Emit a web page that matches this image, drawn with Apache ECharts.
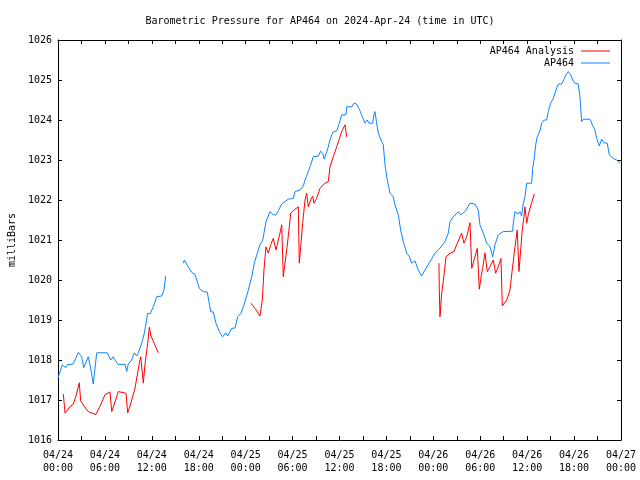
<!DOCTYPE html>
<html><head><meta charset="utf-8">
<script src="https://cdn.jsdelivr.net/npm/echarts@6/dist/echarts.min.js"></script>
<style>html,body{margin:0;padding:0;background:#fff}#c{width:640px;height:480px}</style>
</head><body><div id="c"></div>
<script>
const chartTitle = 'Barometric Pressure for AP464 on 2024-Apr-24 (time in UTC)';
const yAxisName = 'milliBars';
const xTickLabels = ['04/24\n00:00','04/24\n06:00','04/24\n12:00','04/24\n18:00','04/25\n00:00','04/25\n06:00','04/25\n12:00','04/25\n18:00','04/26\n00:00','04/26\n06:00','04/26\n12:00','04/26\n18:00','04/27\n00:00'];
const seriesNames = ['AP464 Analysis', 'AP464'];

// AP464 observations: hours since 04/24 00:00 UTC, pressure (mbar); null = gap
const apHours = [0,0.55,0.98,1.24,1.88,2.17,2.6,3.03,3.29,3.87,4.09,4.51,4.95,6.3,6.74,7.07,7.29,7.71,8.57,8.79,8.99,9.42,9.76,10.06,10.27,10.7,11.04,11.47,11.76,12.19,12.62,13.26,13.55,13.77,
 14.9,
 16.02,16.15,16.66,17.1,17.52,18.07,18.58,19.09,19.53,19.86,20.2,20.63,21.06,21.27,21.48,21.7,22.21,22.63,22.98,23.4,23.79,24.34,24.77,25.1,25.49,25.83,26.18,26.34,26.6,27.11,27.53,27.88,28.17,28.61,29.45,30.09,30.31,30.95,31.37,31.59,32.01,32.31,32.65,33.29,33.59,33.85,34.05,34.27,34.57,34.78,35.13,35.64,35.97,36.28,36.83,36.92,37.56,37.85,38.2,38.62,38.91,39.26,39.55,39.77,40.24,40.41,40.54,40.75,40.96,41.39,41.6,41.82,42.11,42.46,42.88,43.09,43.31,43.52,43.82,44.16,44.59,44.92,45.23,45.65,46.07,46.51,46.93,47.57,48.21,48.85,49.49,49.91,50.13,50.55,51.19,51.5,52.05,52.69,53.32,53.75,53.96,54.39,54.82,55.24,55.59,55.88,56.1,56.3,56.94,58.15,58.22,58.44,58.86,59.08,59.29,59.5,59.72,59.94,60.58,60.7,60.87,61.09,61.29,61.64,61.85,62.19,62.49,62.7,63.0,63.34,63.68,63.98,64.41,64.54,64.71,64.96,65.26,65.56,65.82,66.11,66.53,66.75,66.97,67.17,68.03,68.45,68.67,68.89,69.22,69.53,69.82,70.24,70.5,71.01,71.44,71.87];
const apValues = [1017.55,1017.88,1017.81,1017.89,1017.89,1018.0,1018.19,1018.08,1017.81,1018.08,1017.89,1017.4,1018.18,1018.18,1018.0,1018.08,1018.0,1017.89,1017.89,1017.71,1017.9,1018.0,1018.18,1018.1,1018.18,1018.42,1018.67,1019.17,1019.15,1019.33,1019.58,1019.6,1019.75,1020.1,
 null,
 1020.42,1020.5,1020.33,1020.19,1020.14,1019.79,1019.71,1019.7,1019.21,1019.2,1018.92,1018.71,1018.58,1018.58,1018.68,1018.6,1018.79,1018.8,1019.08,1019.17,1019.38,1019.75,1020.08,1020.42,1020.67,1020.88,1021.0,1021.17,1021.46,1021.71,1021.63,1021.63,1021.73,1021.9,1022.02,1022.04,1022.21,1022.25,1022.35,1022.5,1022.71,1022.88,1023.08,1023.1,1023.22,1023.17,1023.02,1023.15,1023.33,1023.5,1023.69,1023.73,1023.92,1024.13,1024.13,1024.33,1024.33,1024.42,1024.4,1024.23,1024.08,1023.92,1024.0,1023.92,1023.92,1024.13,1024.21,1023.92,1023.67,1023.46,1023.38,1022.88,1022.5,1022.17,1022.08,1021.88,1021.92,1021.63,1021.25,1020.96,1020.67,1020.6,1020.42,1020.48,1020.25,1020.1,1020.25,1020.46,1020.67,1020.79,1020.96,1021.17,1021.46,1021.58,1021.71,1021.63,1021.71,1021.92,1021.9,1021.75,1021.38,1021.17,1020.92,1020.83,1020.58,1020.88,1020.85,1021.13,1021.21,1021.22,1021.42,1021.71,1021.65,1021.71,1021.6,1021.92,1022.08,1022.42,1022.42,1022.79,1023.0,1023.38,1023.58,1023.73,1023.92,1024.0,1024.0,1024.21,1024.42,1024.54,1024.75,1024.9,1024.9,1024.85,1025.02,1025.13,1025.21,1025.13,1025.0,1024.92,1024.9,1024.58,1023.96,1024.02,1024.02,1023.83,1023.75,1023.54,1023.35,1023.52,1023.43,1023.42,1023.13,1023.04,1023.0,1022.92];

// AP464 Analysis: hours, pressure (mbar); null = gap
const anHours = [0.68,0.9,1.53,1.96,2.3,2.72,2.9,3.32,3.87,4.35,4.86,5.37,6.01,6.65,6.87,7.29,7.71,8.7,8.91,9.21,9.85,10.4,10.58,10.91,11.13,11.47,11.68,11.89,12.83,
 18,
 24.68,25.19,25.83,26.13,26.34,26.6,26.89,27.2,27.53,27.88,28.17,28.39,28.61,28.81,29.03,29.25,29.58,29.76,30.18,30.73,30.86,31.04,31.29,31.59,31.8,32.01,32.31,32.57,32.74,33.08,33.5,34.14,34.57,34.78,35.2,35.64,36.28,36.7,36.83,36.92,
 42,
 48.72,48.76,48.85,49.07,49.27,49.62,50.13,50.64,50.98,51.62,51.92,52.26,52.69,52.91,53.62,53.88,54.18,54.31,54.6,54.9,55.24,55.67,55.97,56.3,56.65,56.82,57.38,57.8,58.09,58.35,58.73,58.95,59.17,59.37,59.59,59.72,59.94,60.14,60.49,60.91];
const anValues = [1017.15,1016.67,1016.83,1016.9,1017.1,1017.43,1016.98,1016.85,1016.71,1016.67,1016.64,1016.85,1017.13,1017.2,1016.71,1016.95,1017.21,1017.17,1016.68,1016.85,1017.3,1017.92,1018.08,1017.42,1017.9,1018.42,1018.82,1018.6,1018.18,
 null,
 1019.42,1019.29,1019.1,1019.5,1020.25,1020.83,1020.67,1020.88,1021.04,1020.75,1021.0,1021.17,1021.38,1020.08,1020.42,1020.75,1021.33,1021.67,1021.75,1021.83,1020.42,1020.83,1021.42,1022.0,1022.17,1021.83,1022.0,1022.1,1021.92,1022.04,1022.29,1022.42,1022.46,1022.83,1023.08,1023.33,1023.71,1023.88,1023.71,1023.58,
 null,
 1020.42,1019.75,1019.08,1019.67,1019.96,1020.58,1020.67,1020.71,1020.88,1021.17,1020.92,1021.08,1021.43,1020.29,1020.79,1019.77,1020.17,1020.29,1020.68,1020.21,1020.33,1020.5,1020.17,1020.33,1020.54,1019.35,1019.5,1019.75,1020.25,1020.68,1021.25,1020.21,1020.75,1021.25,1021.58,1021.83,1021.42,1021.63,1021.88,1022.15];

const FONT = 'DejaVu Sans Mono';
const zip = (a, b) => a.map((t, i) => [t, b[i]]);

const baseX = {type:'value', min:0, max:72, interval:6,
  axisLine:{show:true,onZero:false,lineStyle:{color:'#000',width:1}},
  axisTick:{show:true,inside:true,length:4,lineStyle:{color:'#000'}},
  minorTick:{show:true,splitNumber:2,length:4,lineStyle:{color:'#000'}},
  splitLine:{show:false}, minorSplitLine:{show:false}};
const baseY = {type:'value', min:1016, max:1026, interval:1,
  axisLine:{show:true,onZero:false,lineStyle:{color:'#000',width:1}},
  axisTick:{show:true,inside:true,length:4,lineStyle:{color:'#000'}},
  splitLine:{show:false}};

const legendBase = {orient:'vertical', right:30, align:'right', itemWidth:29, itemHeight:1, itemGap:4, padding:0,
  icon:'rect', textStyle:{fontFamily:FONT,fontSize:10,color:'#000',padding:[0,2,0,0]}};

const chart = echarts.init(document.getElementById('c'), null, {renderer:'canvas'});
chart.setOption({
  animation:false,
  backgroundColor:'#fff',
  textStyle:{fontFamily:FONT},
  title:{text:chartTitle, left:'center', top:11, textStyle:{fontFamily:FONT,fontSize:10,fontWeight:'normal',color:'#000'}},
  legend:[
    Object.assign({}, legendBase, {data:[seriesNames[0]], top:46}),
    Object.assign({}, legendBase, {data:[seriesNames[1]], top:58})
  ],
  grid:{left:58, right:19, top:40, bottom:40, containLabel:false, outerBoundsMode:'none'},
  xAxis:[
    Object.assign({}, baseX, {position:'bottom',
      axisLabel:{show:true, margin:9, fontFamily:FONT, fontSize:10, color:'#000', lineHeight:13,
        formatter:v => xTickLabels[Math.round(v/6)]}}),
    Object.assign({}, baseX, {position:'top', axisLabel:{show:false}})
  ],
  yAxis:[
    Object.assign({}, baseY, {position:'left', name:yAxisName, nameLocation:'middle', nameGap:40, nameRotate:90,
      nameTextStyle:{fontFamily:FONT,fontSize:10,color:'#000'},
      axisLabel:{show:true, margin:6, fontFamily:FONT, fontSize:10, color:'#000', formatter:v => String(v)}}),
    Object.assign({}, baseY, {position:'right', axisLabel:{show:false}})
  ],
  series:[
    {name:seriesNames[0], type:'line', data:zip(anHours, anValues), symbol:'none', connectNulls:false,
     lineStyle:{color:'#ff0000', width:1}, itemStyle:{color:'#ff0000'}, z:3},
    {name:seriesNames[1], type:'line', data:zip(apHours, apValues), symbol:'none', connectNulls:false,
     lineStyle:{color:'#0a84ff', width:1}, itemStyle:{color:'#0a84ff'}, z:2}
  ]
});
</script></body></html>
